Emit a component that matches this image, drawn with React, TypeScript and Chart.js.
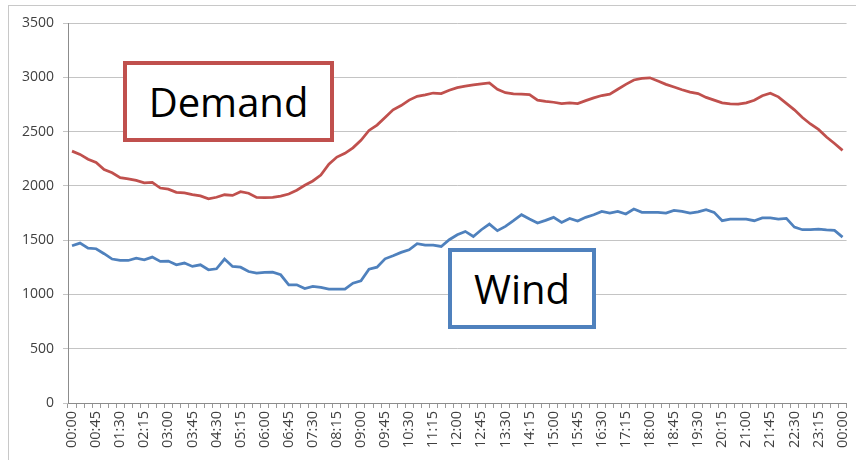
import React, { useEffect, useRef } from "react";
import { Chart, registerables } from "chart.js";

Chart.register(...registerables);

// 15-minute time slots from 00:00 to 00:00 (next day)
const timeLabels: string[] = [
  "00:00","00:15","00:30","00:45","01:00","01:15","01:30","01:45","02:00","02:15","02:30","02:45",
  "03:00","03:15","03:30","03:45","04:00","04:15","04:30","04:45","05:00","05:15","05:30","05:45",
  "06:00","06:15","06:30","06:45","07:00","07:15","07:30","07:45","08:00","08:15","08:30","08:45",
  "09:00","09:15","09:30","09:45","10:00","10:15","10:30","10:45","11:00","11:15","11:30","11:45",
  "12:00","12:15","12:30","12:45","13:00","13:15","13:30","13:45","14:00","14:15","14:30","14:45",
  "15:00","15:15","15:30","15:45","16:00","16:15","16:30","16:45","17:00","17:15","17:30","17:45",
  "18:00","18:15","18:30","18:45","19:00","19:15","19:30","19:45","20:00","20:15","20:30","20:45",
  "21:00","21:15","21:30","21:45","22:00","22:15","22:30","22:45","23:00","23:15","23:30","23:45",
  "00:00",
];

const demand: number[] = [
  2320, 2290, 2245, 2215, 2150, 2120, 2075, 2065, 2050, 2028, 2032, 1980,
  1970, 1940, 1935, 1920, 1907, 1880, 1895, 1918, 1912, 1946, 1932, 1894,
  1892, 1894, 1905, 1925, 1960, 2005, 2045, 2100, 2200, 2265, 2300, 2350,
  2420, 2510, 2560, 2630, 2700, 2740, 2790, 2825, 2838, 2855, 2850, 2880,
  2905, 2918, 2930, 2940, 2948, 2890, 2858, 2848, 2845, 2840, 2790, 2778,
  2770, 2758, 2764, 2758, 2785, 2810, 2832, 2845, 2890, 2935, 2975, 2990,
  2995, 2965, 2935, 2910, 2885, 2863, 2850, 2815, 2790, 2765, 2755, 2752,
  2764, 2788, 2830, 2853, 2820, 2760, 2700, 2630, 2570, 2520, 2450, 2390,
  2327,
];

const wind: number[] = [
  1448, 1473, 1427, 1421, 1375, 1326, 1313, 1313, 1335, 1319, 1344, 1304,
  1307, 1273, 1289, 1258, 1273, 1227, 1236, 1326, 1258, 1251, 1211, 1196,
  1202, 1205, 1181, 1089, 1089, 1054, 1073, 1064, 1049, 1049, 1049, 1104,
  1125, 1233, 1251, 1328, 1356, 1387, 1411, 1467, 1455, 1455, 1442, 1504,
  1550, 1580, 1534, 1596, 1648, 1587, 1627, 1679, 1734, 1694, 1658, 1682,
  1710, 1663, 1700, 1676, 1710, 1734, 1765, 1750, 1765, 1741, 1787, 1756,
  1756, 1756, 1750, 1774, 1765, 1750, 1760, 1780, 1756, 1679, 1694, 1694,
  1694, 1679, 1704, 1704, 1694, 1700, 1620, 1596, 1596, 1602, 1595, 1590,
  1528,
];

const seriesNames = ["Demand", "Wind"];
const labelEvery = 3;

export default function App() {
  const canvasRef = useRef<HTMLCanvasElement | null>(null);

  useEffect(() => {
    if (!canvasRef.current) return;
    const family = "'Open Sans', 'Liberation Sans', sans-serif";
    const chart = new Chart(canvasRef.current, {
      type: "line",
      data: {
        labels: timeLabels,
        datasets: [
          {
            label: seriesNames[0],
            data: demand,
            borderColor: "#c0504d",
            backgroundColor: "#c0504d",
            borderWidth: 2.75,
            pointRadius: 0,
            tension: 0,
          },
          {
            label: seriesNames[1],
            data: wind,
            borderColor: "#4f81bd",
            backgroundColor: "#4f81bd",
            borderWidth: 2.75,
            pointRadius: 0,
            tension: 0,
          },
        ],
      },
      options: {
        responsive: false,
        animation: false,
        layout: { padding: { top: 23, right: 9, left: 0, bottom: 0 } },
        plugins: {
          legend: { display: false },
          tooltip: { enabled: false },
        },
        scales: {
          x: {
            type: "category",
            offset: true,
            afterFit: (scale: any) => {
              scale.height = 57;
            },
            grid: {
              display: true,
              drawOnChartArea: false,
              drawTicks: true,
              tickLength: 5,
              offset: true,
              color: "#9a9a9a",
            },
            border: { display: true, color: "#8c8c8c", width: 1 },
            ticks: {
              autoSkip: false,
              minRotation: 90,
              maxRotation: 90,
              padding: 3,
              color: "#404040",
              font: { family, size: 14.5 },
              callback: (_v: any, i: number) => (i % labelEvery === 0 ? timeLabels[i] : ""),
            },
          },
          y: {
            min: 0,
            max: 3500,
            afterFit: (scale: any) => {
              scale.width = 68;
            },
            grid: {
              color: "#c4c4c4",
              lineWidth: 1,
              drawTicks: true,
              tickLength: 5,
            },
            border: { display: true, color: "#8c8c8c", width: 1 },
            ticks: {
              stepSize: 500,
              padding: 9,
              color: "#404040",
              font: { family, size: 14 },
              callback: (v: any) => String(v),
            },
          },
        },
      },
    });
    return () => chart.destroy();
  }, []);

  const boxText: React.CSSProperties = {
    position: "absolute",
    boxSizing: "border-box",
    background: "#ffffff",
    display: "flex",
    alignItems: "center",
    justifyContent: "center",
    fontFamily: "'Open Sans', 'Liberation Sans', sans-serif",
    fontSize: 40,
    color: "#000000",
    lineHeight: 1,
  };

  return (
    <div
      style={{
        position: "fixed",
        left: 0,
        top: 0,
        width: 856,
        height: 460,
        background: "#ffffff",
        overflow: "hidden",
      }}
    >
      <div
        style={{
          position: "absolute",
          left: 8,
          top: 5,
          width: 900,
          height: 520,
          border: "1px solid #c8c8c8",
        }}
      />
      <canvas
        ref={canvasRef}
        width={863}
        height={460}
        style={{ position: "absolute", left: 0, top: 0, width: 863, height: 460 }}
      />
      <div
        style={{
          ...boxText,
          left: 123,
          top: 61,
          width: 211,
          height: 81,
          border: "4px solid #c0504d",
        }}
      >
        {seriesNames[0]}
      </div>
      <div
        style={{
          ...boxText,
          left: 448,
          top: 248,
          width: 148,
          height: 81,
          border: "4px solid #4f81bd",
        }}
      >
        {seriesNames[1]}
      </div>
    </div>
  );
}
